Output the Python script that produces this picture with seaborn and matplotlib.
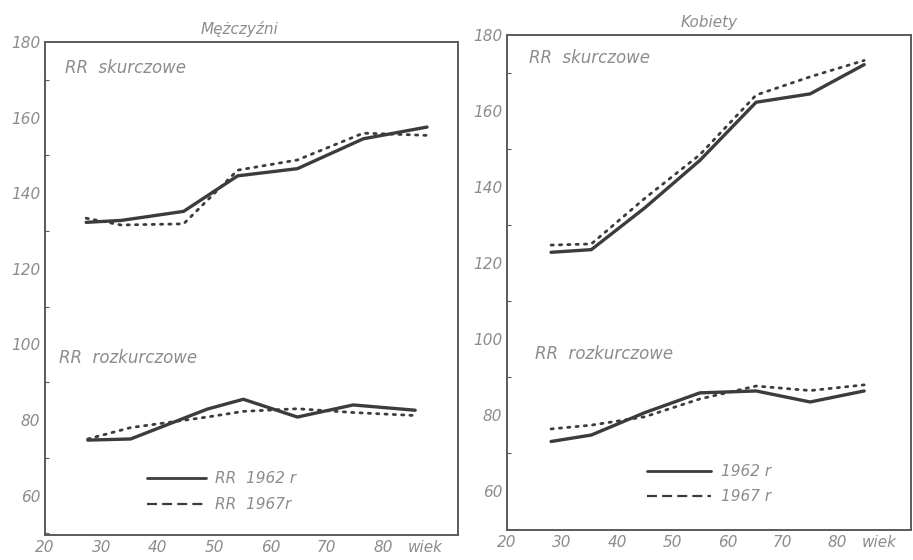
import matplotlib
matplotlib.use("Agg")
import matplotlib.pyplot as plt
from matplotlib.lines import Line2D
from matplotlib.ticker import MultipleLocator
import seaborn as sns
import pandas as pd

# Ciśnienie tętnicze (RR) wg wieku, badania 1962 i 1967
panel_titles = ["Mężczyźni", "Kobiety"]
years = ["1962", "1967"]

# Mężczyźni
ages_m_sys = [27.3, 33.5, 44.6, 54.2, 64.8, 76.5, 87.8]
m_sys_1962 = [132.3, 132.8, 135.2, 144.6, 146.5, 154.4, 157.5]
m_sys_1967 = [133.4, 131.6, 131.9, 146.1, 148.8, 155.9, 155.3]
ages_m_dia = [27.6, 35.2, 48.8, 55.2, 64.8, 74.7, 85.7]
m_dia_1962 = [74.7, 75.0, 82.9, 85.5, 80.8, 84.0, 82.6]
m_dia_1967 = [75.0, 78.0, 80.8, 82.3, 83.0, 82.0, 81.2]

# Kobiety
ages_k = [28.0, 35.3, 45.0, 55.0, 65.2, 75.0, 84.8]
k_sys_1962 = [122.8, 123.5, 134.5, 147.0, 162.3, 164.5, 172.2]
k_sys_1967 = [124.7, 125.0, 137.0, 148.5, 164.2, 169.0, 173.3]
k_dia_1962 = [73.0, 74.7, 80.6, 85.8, 86.3, 83.4, 86.3]
k_dia_1967 = [76.3, 77.3, 79.5, 84.2, 87.6, 86.4, 87.9]

x_ticks = [20, 30, 40, 50, 60, 70, 80]
y_ticks = [60, 80, 100, 120, 140, 160, 180]
legend_m = ["RR  1962 r", "RR  1967r"]
legend_k = ["1962 r", "1967 r"]
label_sys = "RR  skurczowe"
label_dia = "RR  rozkurczowe"
age_word = "wiek"

sns.set_theme(style="white")
plt.rcParams["font.family"] = ["DejaVu Sans"]
plt.rcParams["font.style"] = "italic"

INK = "#3c3c3c"
TXT = "#8c8c8c"
SPINE = "#5a5a5a"

fig = plt.figure(figsize=(9.13, 5.6), dpi=100)
fig.patch.set_facecolor("white")
ax_m = fig.add_axes([45 / 913, 1 - 535 / 560, 413 / 913, 493 / 560])
ax_k = fig.add_axes([507 / 913, 1 - 530 / 560, 404 / 913, 495 / 560])


def series_frame(ages, values):
    return pd.DataFrame({"wiek": ages, "RR": values})


def draw_pair(ax, ages, v62, v67):
    sns.lineplot(data=series_frame(ages, v67), x="wiek", y="RR", ax=ax,
                 color=INK, linewidth=2.0, linestyle=(0, (0.8, 2.2)),
                 dash_capstyle="round", legend=False)
    sns.lineplot(data=series_frame(ages, v62), x="wiek", y="RR", ax=ax,
                 color=INK, linewidth=2.4, legend=False)


draw_pair(ax_m, ages_m_sys, m_sys_1962, m_sys_1967)
draw_pair(ax_m, ages_m_dia, m_dia_1962, m_dia_1967)
draw_pair(ax_k, ages_k, k_sys_1962, k_sys_1967)
draw_pair(ax_k, ages_k, k_dia_1962, k_dia_1967)

ax_m.set_xlim(20, 93.3)
ax_m.set_ylim(49.6, 180)
ax_k.set_xlim(21.8, 93.3)
ax_k.set_ylim(49.7, 180)

for ax, title, tx in zip([ax_m, ax_k], panel_titles, [0.472, 0.5]):
    ax.set_xlabel("")
    ax.set_ylabel("")
    ax.set_xticks(x_ticks)
    ax.set_xticklabels([str(t) for t in x_ticks])
    ax.set_yticks(y_ticks)
    ax.set_yticklabels([str(t) for t in y_ticks])
    ax.yaxis.set_minor_locator(MultipleLocator(10))
    ax.tick_params(axis="both", which="major", direction="in", length=5,
                   width=1.0, color=SPINE, labelsize=11, labelcolor=TXT)
    ax.tick_params(axis="y", which="minor", direction="in", length=3,
                   width=0.8, color=SPINE, left=True)
    ax.tick_params(axis="x", pad=3.5)
    for s in ax.spines.values():
        s.set_visible(True)
        s.set_color(SPINE)
        s.set_linewidth(1.4)
    ax.set_title(title, fontsize=11, color=TXT, style="italic", pad=6, x=tx)
    ax.annotate(age_word, xy=(84.3, 0), xycoords=ax.get_xaxis_transform(),
                xytext=(0, -3.5), textcoords="offset points",
                ha="left", va="top", fontsize=11, color=TXT)
    ax.set_facecolor("white")

# Podpisy krzywych
ax_m.text(23.5, 173, label_sys, fontsize=12, color=TXT, va="center")
ax_m.text(22.5, 96.5, label_dia, fontsize=12, color=TXT, va="center")
ax_k.text(24.0, 174, label_sys, fontsize=12, color=TXT, va="center")
ax_k.text(25.0, 96.0, label_dia, fontsize=12, color=TXT, va="center")

# Legenda
handles = [Line2D([], [], color=INK, linewidth=2.0),
           Line2D([], [], color=INK, linewidth=1.6, linestyle=(0, (4.5, 2.3)))]
ax_m.legend(handles, legend_m, loc="center left", bbox_to_anchor=(0.213, 0.088),
            frameon=False, handlelength=3.9, handletextpad=0.6,
            labelspacing=0.75, prop={"size": 11, "style": "italic"},
            labelcolor=TXT)
ax_k.legend(handles, legend_k, loc="center left", bbox_to_anchor=(0.313, 0.092),
            frameon=False, handlelength=4.2, handletextpad=0.6,
            labelspacing=0.65, prop={"size": 11, "style": "italic"},
            labelcolor=TXT)

fig.savefig("out.png", dpi=100, facecolor="white")
